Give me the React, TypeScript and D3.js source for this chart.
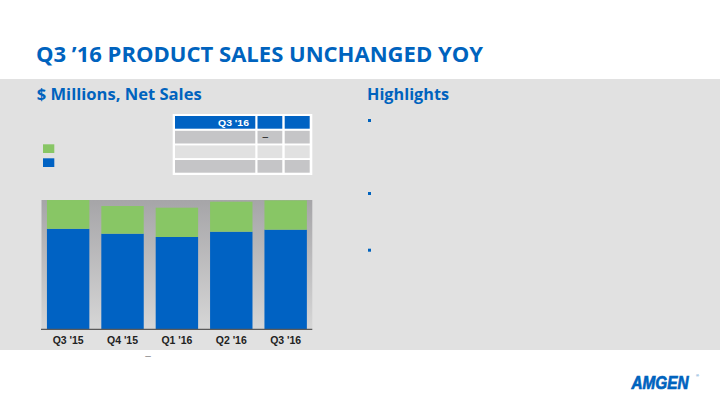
import React from "react";
import * as d3 from "d3";

const quarters = ["Q3 '15", "Q4 '15", "Q1 '16", "Q2 '16", "Q3 '16"];
const usSales = [4225, 4019, 3880, 4103, 4189];
const rowSales = [1214, 1168, 1235, 1265, 1236];
const seriesKeys = ["us", "row"];
const seriesColors = ["#0062c3", "#88c665"];
const tableHeader = ["Q3 '16", "", ""];
const tableRows = [["", "–", ""], ["", "", ""], ["", "", ""]];
const bulletCount = 3;

export default function App() {
  const W = 720, H = 405;
  const data = quarters.map((q, i) => ({ q, us: usSales[i], row: rowSales[i] }));
  const x = d3.scaleBand<string>().domain(quarters).range([41.5, 312.3]).paddingInner(0.22).paddingOuter(0.1);
  const y = d3.scaleLinear().domain([0, 5440]).range([329, 200]);
  const stack = d3.stack<any>().keys(seriesKeys)(data);

  const colX = [175, 257.5, 284.7];
  const colW = [80.3, 24.8, 25];
  const rowY = [116, 130.8, 145.4, 160];
  const rowH = 12.7;
  const rowFills = ["#c5c5c7", "#e1e1e1", "#c5c5c7"];
  const bulletYs = [119, 192, 248.7].slice(0, bulletCount);

  return (
    <svg width={W} height={H} style={{ position: "absolute", left: 0, top: 0 }} xmlns="http://www.w3.org/2000/svg">
      <defs>
        <linearGradient id="plotbg" x1="0" y1="0" x2="0" y2="1">
          <stop offset="0" stopColor="#a6a5a8" />
          <stop offset="1" stopColor="#d6d6d6" />
        </linearGradient>
      </defs>
      <rect x={0} y={0} width={W} height={H} fill="#ffffff" />
      <text x={36} y={61.7} fontFamily="'Open Sans', sans-serif" fontWeight={700} fontSize={20.5} fill="#0063be" textLength={447} lengthAdjust="spacingAndGlyphs">Q3 ’16 PRODUCT SALES UNCHANGED YOY</text>
      <rect x={0} y={79} width={W} height={271} fill="#e1e1e1" />
      <text x={36.7} y={99.5} fontFamily="'Open Sans', sans-serif" fontWeight={700} fontSize={15.5} fill="#0063be" textLength={165} lengthAdjust="spacingAndGlyphs">$ Millions, Net Sales</text>
      <text x={367} y={99.5} fontFamily="'Open Sans', sans-serif" fontWeight={700} fontSize={15.5} fill="#0063be" textLength={82} lengthAdjust="spacingAndGlyphs">Highlights</text>
      {bulletYs.map((by, i) => (
        <rect key={i} x={368} y={by} width={3} height={3} fill="#0063be" />
      ))}

      {/* legend */}
      <rect x={43} y={144.3} width={11.3} height={8.7} fill={seriesColors[1]} />
      <rect x={43} y={158.3} width={11.3} height={8.7} fill={seriesColors[0]} />

      {/* table */}
      <rect x={172.7} y={114} width={139.6} height={61} fill="#ffffff" />
      {tableHeader.map((t, j) => (
        <g key={"h" + j}>
          <rect x={colX[j]} y={rowY[0]} width={colW[j]} height={rowH} fill="#0062c3" />
          {t && (
            <text x={218} y={rowY[0] + 9.8} fontFamily="'Liberation Sans', Arial, sans-serif" fontWeight={700} fontSize={9.8} fill="#ffffff" textLength={31} lengthAdjust="spacingAndGlyphs">{t}</text>
          )}
        </g>
      ))}
      {tableRows.map((r, i) =>
        r.map((t, j) => (
          <g key={i + "-" + j}>
            <rect x={colX[j]} y={rowY[i + 1]} width={colW[j]} height={rowH} fill={rowFills[i]} />
            {t && (
              <text x={colX[j] + 5} y={rowY[i + 1] + 9} fontFamily="'Liberation Sans', Arial, sans-serif" fontSize={10} fill="#111">{t}</text>
            )}
          </g>
        ))
      )}

      {/* chart */}
      <rect x={41.5} y={200} width={270.8} height={129} fill="url(#plotbg)" />
      {stack.map((s, k) => (
        <g key={s.key} fill={seriesColors[k]}>
          {s.map((d, i) => (
            <rect key={i} x={x(quarters[i])} y={y(d[1])} width={x.bandwidth()} height={y(d[0]) - y(d[1])} />
          ))}
        </g>
      ))}
      <line x1={41} x2={312.3} y1={329.3} y2={329.3} stroke="#5a5a5a" strokeWidth={1.3} />
      {quarters.map((q) => (
        <text key={q} x={(x(q) as number) + x.bandwidth() / 2} y={344.3} textAnchor="middle" fontFamily="'Liberation Sans', Arial, sans-serif" fontWeight={700} fontSize={10} fill="#222" textLength={31} lengthAdjust="spacingAndGlyphs">{q}</text>
      ))}
      <text x={148} y={359} textAnchor="middle" fontFamily="'Liberation Sans', Arial, sans-serif" fontSize={10} fill="#888">–</text>

      {/* logo */}
      <text x={631.5} y={389.3} fontFamily="'Liberation Sans', Arial, sans-serif" fontWeight={700} fontStyle="italic" fontSize={17.5} fill="#0063be" stroke="#0063be" strokeWidth={0.7} textLength={57} lengthAdjust="spacingAndGlyphs">AMGEN</text>
      <text x={696} y={377} fontFamily="'Liberation Sans', Arial, sans-serif" fontSize={4} fill="#0063be">®</text>
    </svg>
  );
}
